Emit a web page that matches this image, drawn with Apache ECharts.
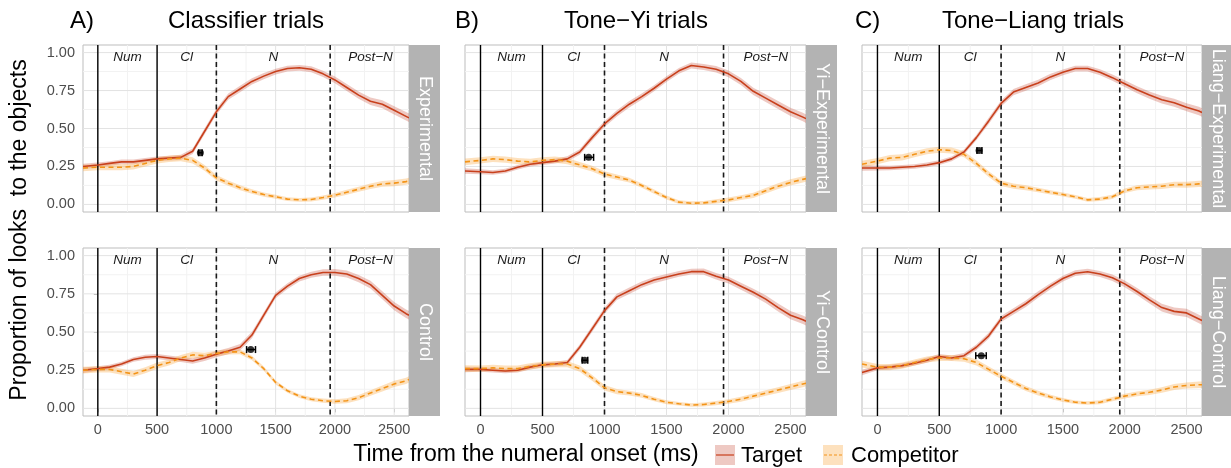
<!DOCTYPE html>
<html><head><meta charset="utf-8">
<script src="https://cdn.jsdelivr.net/npm/echarts@6/dist/echarts.min.js"></script>
<style>html,body{margin:0;padding:0;background:#fff}#c{width:1231px;height:468px}</style>
</head><body><div id="c"></div>
<script>
// ---------- data ----------
const times = [-125,0,100,200,300,400,500,600,700,800,900,1000,1100,1200,1300,1400,1500,1600,1700,1800,1900,2000,2100,2200,2300,2400,2500,2600,2625];
const xTicks = [0,500,1000,1500,2000,2500];
const xMinor = [250,750,1250,1750,2250];
const yTicks = [0,0.25,0.5,0.75,1];
const yMinor = [0.125,0.375,0.625,0.875];
const phaseSolid = [0,500];
const phaseDashed = [1000,1960];
const phaseNames = ['Num','Cl','N','Post\u2212N'];
const phaseLabelX = [250,750,1480,2300];
const panelTitles = ['Classifier trials','Tone\u2212Yi trials','Tone\u2212Liang trials'];
const panelTags = ['A)','B)','C)'];
const stripLabels = ['Experimental','Control','Yi\u2212Experimental','Yi\u2212Control','Liang\u2212Experimental','Liang\u2212Control'];
const seriesNames = ['Target','Competitor'];

// Classifier trials
const targetClsExp  = [0.25,0.26,0.27,0.28,0.28,0.29,0.30,0.305,0.31,0.35,0.48,0.61,0.71,0.76,0.81,0.845,0.875,0.895,0.90,0.89,0.86,0.82,0.77,0.72,0.68,0.66,0.62,0.58,0.57];
const compClsExp    = [0.24,0.245,0.245,0.245,0.25,0.27,0.29,0.30,0.305,0.29,0.24,0.175,0.14,0.11,0.085,0.065,0.05,0.035,0.03,0.032,0.045,0.06,0.08,0.10,0.12,0.135,0.14,0.15,0.155];
const targetClsCtl  = [0.25,0.26,0.27,0.29,0.32,0.335,0.34,0.33,0.32,0.31,0.33,0.355,0.375,0.40,0.48,0.61,0.74,0.80,0.85,0.875,0.89,0.89,0.88,0.85,0.81,0.74,0.67,0.62,0.61];
const compClsCtl    = [0.25,0.255,0.255,0.24,0.225,0.25,0.28,0.30,0.33,0.35,0.345,0.36,0.37,0.37,0.33,0.26,0.17,0.115,0.08,0.06,0.05,0.045,0.05,0.07,0.10,0.13,0.16,0.18,0.19];
// Tone-Yi trials
const targetYiExp   = [0.22,0.215,0.21,0.22,0.245,0.265,0.275,0.285,0.30,0.345,0.44,0.53,0.60,0.66,0.71,0.765,0.825,0.88,0.915,0.905,0.89,0.86,0.81,0.745,0.70,0.655,0.61,0.575,0.565];
const compYiExp     = [0.28,0.29,0.30,0.295,0.285,0.28,0.29,0.295,0.285,0.26,0.235,0.20,0.18,0.16,0.125,0.085,0.045,0.015,0.008,0.01,0.02,0.03,0.045,0.06,0.09,0.12,0.145,0.165,0.17];
const targetYiCtl   = [0.255,0.255,0.25,0.245,0.25,0.27,0.285,0.29,0.30,0.40,0.52,0.64,0.73,0.77,0.81,0.84,0.86,0.88,0.895,0.895,0.865,0.84,0.80,0.76,0.715,0.66,0.61,0.58,0.57];
const compYiCtl     = [0.26,0.26,0.265,0.26,0.26,0.275,0.285,0.29,0.29,0.26,0.20,0.135,0.11,0.10,0.085,0.06,0.04,0.03,0.022,0.025,0.035,0.045,0.06,0.08,0.10,0.12,0.14,0.16,0.165];
// Tone-Liang trials
const targetLiExp   = [0.24,0.24,0.24,0.245,0.25,0.26,0.275,0.30,0.345,0.44,0.55,0.665,0.74,0.77,0.80,0.84,0.87,0.895,0.895,0.87,0.835,0.795,0.755,0.72,0.69,0.67,0.64,0.615,0.605];
const compLiExp     = [0.265,0.285,0.305,0.31,0.33,0.35,0.36,0.355,0.33,0.27,0.20,0.14,0.12,0.11,0.095,0.08,0.065,0.05,0.03,0.035,0.05,0.09,0.11,0.115,0.12,0.13,0.13,0.135,0.135];
const targetLiCtl   = [0.235,0.265,0.27,0.28,0.295,0.315,0.34,0.33,0.345,0.40,0.475,0.585,0.635,0.685,0.745,0.80,0.85,0.885,0.895,0.88,0.855,0.815,0.765,0.71,0.66,0.635,0.625,0.585,0.575];
const compLiCtl     = [0.29,0.27,0.27,0.28,0.30,0.32,0.33,0.33,0.325,0.30,0.255,0.21,0.17,0.13,0.10,0.075,0.055,0.04,0.035,0.04,0.06,0.08,0.095,0.105,0.12,0.14,0.15,0.155,0.155];

// confidence half-widths of the ribbons
const ciTarget = [0.018,0.016,0.015,0.015,0.015,0.016,0.016,0.016,0.017,0.018,0.020,0.020,0.021,0.021,0.021,0.020,0.019,0.019,0.019,0.020,0.021,0.022,0.023,0.024,0.025,0.026,0.027,0.028,0.028];
const ciComp   = [0.022,0.020,0.020,0.020,0.020,0.020,0.020,0.020,0.020,0.020,0.019,0.018,0.017,0.016,0.015,0.014,0.013,0.012,0.012,0.013,0.014,0.015,0.016,0.017,0.018,0.019,0.020,0.021,0.021];

// divergence points (panel order: A-top, A-bottom, B-top, B-bottom, C-top, C-bottom)
const divergeT  = [865,1290,872,840,822,840];
const divergeLo = [850,1255,840,820,805,795];
const divergeHi = [880,1330,912,865,845,880];
const divergeY  = [0.34,0.385,0.31,0.315,0.355,0.345];

const targetSets = [targetClsExp,targetClsCtl,targetYiExp,targetYiCtl,targetLiExp,targetLiCtl];
const compSets   = [compClsExp,compClsCtl,compYiExp,compYiCtl,compLiExp,compLiCtl];

// ---------- layout / style ----------
const FONT = '"Liberation Sans", Arial, sans-serif';
const colLeft = [83,465,862], colWidth = [326,341,340];
const rowTop = [45,248], rowHeight = [167,168];
const stripW = 31;
const C_T = '#c8401c', C_C = '#f39418';
const F_T = 'rgba(200,75,55,0.30)', F_C = 'rgba(250,170,70,0.35)';

const grids = [], xAxes = [], yAxes = [], series = [], graphics = [];

for (let col = 0; col < 3; col++) {
  for (let row = 0; row < 2; row++) {
    const i = col * 2 + row;
    grids.push({left: colLeft[col], top: rowTop[row], width: colWidth[col], height: rowHeight[row],
      show: true, borderColor: '#bdbdbd', borderWidth: 1, backgroundColor: '#fff', containLabel: false});
    xAxes.push({type: 'value', gridIndex: i, min: -125, max: 2625,
      axisLine: {show: false}, splitLine: {show: false},
      axisTick: {show: row === 1, customValues: xTicks, length: 4, lineStyle: {color: '#b3b3b3'}},
      axisLabel: {show: row === 1, customValues: xTicks, color: '#4d4d4d', fontSize: 14.5, margin: 6, fontFamily: FONT,
        formatter: v => String(v)}});
    yAxes.push({type: 'value', gridIndex: i, min: -0.05, max: 1.05,
      axisLine: {show: false}, splitLine: {show: false},
      axisTick: {show: col === 0, customValues: yTicks, length: 4, lineStyle: {color: '#b3b3b3'}},
      axisLabel: {show: col === 0, customValues: yTicks, color: '#4d4d4d', fontSize: 14.5, margin: 8, fontFamily: FONT,
        formatter: v => v.toFixed(2)}});

    // grid lines (minor + major)
    series.push({type: 'custom', xAxisIndex: i, yAxisIndex: i, z: 1, silent: true, data: [[0, 0]],
      renderItem: function (params, api) {
        const cs = params.coordSys, ch = [];
        const vline = (v, color) => { const p = api.coord([v, 0]);
          ch.push({type: 'line', shape: {x1: p[0], y1: cs.y, x2: p[0], y2: cs.y + cs.height}, style: {stroke: color, lineWidth: 1}}); };
        const hline = (v, color) => { const p = api.coord([0, v]);
          ch.push({type: 'line', shape: {x1: cs.x, y1: p[1], x2: cs.x + cs.width, y2: p[1]}, style: {stroke: color, lineWidth: 1}}); };
        xMinor.forEach(v => vline(v, '#f2f2f2'));
        yMinor.forEach(v => hline(v, '#f2f2f2'));
        xTicks.forEach(v => vline(v, '#e3e3e3'));
        yTicks.forEach(v => hline(v, '#e3e3e3'));
        return {type: 'group', children: ch};
      }});

    // ribbons
    const band = (vals, ci, fill) => ({
      type: 'custom', xAxisIndex: i, yAxisIndex: i, z: 2, silent: true,
      data: [[times[0], vals[0]]],
      renderItem: function (params, api) {
        const pts = [];
        for (let k = 0; k < times.length; k++) pts.push(api.coord([times[k], vals[k] + ci[k]]));
        for (let k = times.length - 1; k >= 0; k--) pts.push(api.coord([times[k], vals[k] - ci[k]]));
        return {type: 'polygon', shape: {points: pts}, style: {fill: fill}};
      }
    });
    series.push(band(targetSets[i], ciTarget, F_T));
    series.push(band(compSets[i], ciComp, F_C));

    // phase boundary lines + phase labels
    series.push({type: 'custom', xAxisIndex: i, yAxisIndex: i, z: 3, silent: true, data: [[0, 0]],
      renderItem: function (params, api) {
        const cs = params.coordSys, ch = [];
        phaseSolid.forEach(v => { const p = api.coord([v, 0]);
          ch.push({type: 'line', shape: {x1: p[0], y1: cs.y, x2: p[0], y2: cs.y + cs.height}, style: {stroke: '#000', lineWidth: 1.4}}); });
        phaseDashed.forEach(v => { const p = api.coord([v, 0]);
          ch.push({type: 'line', shape: {x1: p[0], y1: cs.y, x2: p[0], y2: cs.y + cs.height}, style: {stroke: '#1a1a1a', lineWidth: 1.6, lineDash: [5, 3.5]}}); });
        phaseLabelX.forEach((v, k) => { const p = api.coord([v, 0.97]);
          ch.push({type: 'text', x: p[0], y: p[1], style: {text: phaseNames[k], fill: '#1a1a1a',
            font: 'italic 13.5px ' + FONT, textAlign: 'center', textVerticalAlign: 'middle'}}); });
        return {type: 'group', children: ch};
      }});

    // lines
    series.push({name: seriesNames[0], type: 'line', xAxisIndex: i, yAxisIndex: i, z: 4, symbol: 'none',
      data: times.map((t, k) => [t, targetSets[i][k]]), lineStyle: {color: C_T, width: 1.6}, itemStyle: {color: C_T}});
    series.push({name: seriesNames[1], type: 'line', xAxisIndex: i, yAxisIndex: i, z: 4, symbol: 'none',
      data: times.map((t, k) => [t, compSets[i][k]]), lineStyle: {color: C_C, width: 1.6, type: [5, 3.5]}, itemStyle: {color: C_C}});

    // divergence error bar + point
    series.push({type: 'custom', xAxisIndex: i, yAxisIndex: i, z: 6, silent: true,
      data: [[divergeT[i], divergeLo[i], divergeHi[i], divergeY[i]]],
      encode: {x: [0, 1, 2], y: 3},
      renderItem: function (params, api) {
        const a = api.coord([api.value(1), api.value(3)]);
        const b = api.coord([api.value(2), api.value(3)]);
        const st = {stroke: '#000', lineWidth: 1.5};
        return {type: 'group', children: [
          {type: 'line', shape: {x1: a[0], y1: a[1], x2: b[0], y2: b[1]}, style: st},
          {type: 'line', shape: {x1: a[0], y1: a[1] - 3.5, x2: a[0], y2: a[1] + 3.5}, style: st},
          {type: 'line', shape: {x1: b[0], y1: b[1] - 3.5, x2: b[0], y2: b[1] + 3.5}, style: st}
        ]};
      }});
    series.push({type: 'scatter', xAxisIndex: i, yAxisIndex: i, z: 7, silent: true, symbol: 'circle', symbolSize: 7,
      itemStyle: {color: '#000'}, data: [[divergeT[i], divergeY[i]]]});

    // strip
    const sx = colLeft[col] + colWidth[col];
    graphics.push({type: 'rect', shape: {x: sx, y: rowTop[row], width: stripW, height: rowHeight[row]},
      style: {fill: '#b3b3b3'}, z: 10});
    graphics.push({type: 'text', x: sx + stripW / 2, y: rowTop[row] + rowHeight[row] / 2, rotation: -Math.PI / 2, z: 11,
      style: {text: stripLabels[i], fill: '#fff', font: '18px ' + FONT, textAlign: 'center', textVerticalAlign: 'middle'}});
  }
}

// titles
const tagX = [70, 455, 855], titleCX = [246, 636, 1033];
for (let c = 0; c < 3; c++) {
  graphics.push({type: 'text', x: tagX[c], y: 21, z: 11,
    style: {text: panelTags[c], fill: '#000', font: '24px ' + FONT, textAlign: 'left', textVerticalAlign: 'middle'}});
  graphics.push({type: 'text', x: titleCX[c], y: 21, z: 11,
    style: {text: panelTitles[c], fill: '#000', font: '24px ' + FONT, textAlign: 'center', textVerticalAlign: 'middle'}});
}
// axis titles
graphics.push({type: 'text', x: 20, y: 230, rotation: Math.PI / 2, z: 11,
  style: {text: 'Proportion of looks  to the objects', fill: '#000', font: '23px ' + FONT, textAlign: 'center', textVerticalAlign: 'middle'}});
graphics.push({type: 'text', x: 526, y: 455, z: 11,
  style: {text: 'Time from the numeral onset (ms)', fill: '#000', font: '23px ' + FONT, textAlign: 'center', textVerticalAlign: 'middle'}});
// legend
const legKeyX = [715, 823], legTextX = [741, 851];
const legStroke = [C_T, C_C], legFill = ['rgb(238,201,195)', 'rgb(253,225,190)'], legDash = [null, [3, 2]];
for (let k = 0; k < 2; k++) {
  graphics.push({type: 'rect', shape: {x: legKeyX[k], y: 445, width: 20, height: 20}, style: {fill: legFill[k]}, z: 11});
  graphics.push({type: 'line', shape: {x1: legKeyX[k] + 1, y1: 455, x2: legKeyX[k] + 19, y2: 455},
    style: {stroke: legStroke[k], lineWidth: 1.2, lineDash: legDash[k]}, z: 12});
  graphics.push({type: 'text', x: legTextX[k], y: 456, z: 11,
    style: {text: seriesNames[k], fill: '#000', font: '22px ' + FONT, textAlign: 'left', textVerticalAlign: 'middle'}});
}

const chart = echarts.init(document.getElementById('c'), null, {renderer: 'canvas'});
chart.setOption({
  animation: false,
  textStyle: {fontFamily: FONT},
  grid: grids, xAxis: xAxes, yAxis: yAxes, series: series, graphic: graphics
});
</script></body></html>
